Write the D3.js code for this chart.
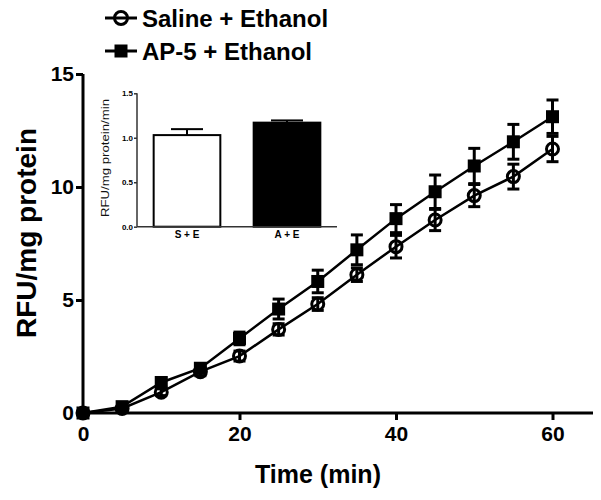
<!DOCTYPE html>
<html><head><meta charset="utf-8">
<script src="https://cdn.jsdelivr.net/npm/d3@7"></script>
<style>body{margin:0;background:#fff}svg{display:block}text{font-family:"Liberation Sans",Arial,sans-serif;font-weight:bold;fill:#000}</style>
</head><body><svg id="c" width="601" height="500"></svg>
<script>
const times = [0,5,10,15,20,25,30,35,40,45,50,55,60];
const salineMean = [0,0.2,0.92,1.83,2.52,3.7,4.82,6.12,7.36,8.54,9.62,10.46,11.68];
const salineErr  = [0,0.1,0.15,0.18,0.22,0.25,0.28,0.3,0.5,0.47,0.49,0.55,0.56];
const ap5Mean = [0,0.28,1.35,1.98,3.3,4.6,5.82,7.22,8.6,9.79,10.93,12.0,13.11];
const ap5Err  = [0,0.1,0.2,0.2,0.28,0.44,0.5,0.66,0.62,0.74,0.78,0.77,0.74];
const seriesNames = ["Saline + Ethanol","AP-5 + Ethanol"];
const xTicks = [0,20,40,60];
const yTicks = [0,5,10,15];
const insetCats = ["S + E","A + E"];
const insetMean = [1.03,1.17];
const insetErr = [0.067,0.025];
const insetTicks = [0,0.5,1.0,1.5];

const svg = d3.select("#c");
const x = d3.scaleLinear().domain([0,60]).range([83,552.5]);
const y = d3.scaleLinear().domain([0,15]).range([413,74]);

// axes
const xAxis = svg.append("g").attr("transform","translate(0,413)")
  .call(d3.axisBottom(x).tickValues(xTicks).tickSize(7).tickPadding(6).tickFormat(d3.format("d")));
xAxis.select(".domain").attr("d","M83,0H593");
const yAxis = svg.append("g").attr("transform","translate(83,0)")
  .call(d3.axisLeft(y).tickValues(yTicks).tickSize(7).tickPadding(2).tickFormat(d3.format("d")));
yAxis.select(".domain").attr("d","M0,74V413");
[xAxis,yAxis].forEach(a=>{
  a.selectAll(".domain").attr("stroke","#000").attr("stroke-width",3);
  a.selectAll(".tick line").attr("stroke","#000").attr("stroke-width",3);
  a.selectAll(".tick text").style("font-size","21px").style("font-family","'Liberation Sans',Arial,sans-serif").style("font-weight","bold");
});

svg.append("text").attr("x",318).attr("y",483).attr("text-anchor","middle").style("font-size","25px").text("Time (min)");
svg.append("text").attr("transform","translate(36,233) rotate(-90)").attr("text-anchor","middle").style("font-size","28px").text("RFU/mg protein");

const line = d3.line().x((d,i)=>x(times[i])).y(d=>y(d));
const capW = 6;
function errBars(mean, err){
  const g = svg.append("g").attr("stroke","#000").attr("stroke-width",3);
  times.forEach((t,i)=>{
    if(err[i] <= 0) return;
    const y1 = y(mean[i]-err[i]), y2 = y(mean[i]+err[i]);
    g.append("line").attr("x1",x(t)).attr("x2",x(t)).attr("y1",y1).attr("y2",y2);
    g.append("line").attr("x1",x(t)-capW).attr("x2",x(t)+capW).attr("y1",y1).attr("y2",y1);
    g.append("line").attr("x1",x(t)-capW).attr("x2",x(t)+capW).attr("y1",y2).attr("y2",y2);
  });
}
errBars(ap5Mean, ap5Err);
errBars(salineMean, salineErr);
svg.append("path").datum(ap5Mean).attr("d",line).attr("fill","none").attr("stroke","#000").attr("stroke-width",2.5);
svg.append("path").datum(salineMean).attr("d",line).attr("fill","none").attr("stroke","#000").attr("stroke-width",2.5);
svg.append("g").selectAll("rect").data(ap5Mean).join("rect")
  .attr("x",(d,i)=>x(times[i])-6.5).attr("y",d=>y(d)-6.5).attr("width",13).attr("height",13).attr("fill","#000");
svg.append("g").selectAll("circle").data(salineMean).join("circle")
  .attr("cx",(d,i)=>x(times[i])).attr("cy",d=>y(d)).attr("r",6).attr("fill","none").attr("stroke","#000").attr("stroke-width",3);

// legend
const leg = svg.append("g");
seriesNames.forEach((n,i)=>{
  const cy = 18 + i*33;
  leg.append("line").attr("x1",105).attr("x2",137).attr("y1",cy).attr("y2",cy).attr("stroke","#000").attr("stroke-width",3);
  if(i===0) leg.append("circle").attr("cx",121).attr("cy",cy).attr("r",6.5).attr("fill","none").attr("stroke","#000").attr("stroke-width",3);
  else leg.append("rect").attr("x",114.5).attr("y",cy-6.5).attr("width",13).attr("height",13).attr("fill","#000");
  leg.append("text").attr("x",142).attr("y",cy+8.5).style("font-size","24px").text(n);
});

// inset
const ix = d3.scaleBand().domain(insetCats).range([137,337]).paddingInner(1/3).paddingOuter(1/6);
const iy = d3.scaleLinear().domain([0,1.5]).range([226.7,93.3]);
const ig = svg.append("g");
ig.selectAll("line.err").data(insetCats).join("g").each(function(c,i){
  const g = d3.select(this);
  const cx = ix(c)+ix.bandwidth()/2;
  g.append("line").attr("x1",cx).attr("x2",cx).attr("y1",iy(insetMean[i])).attr("y2",iy(insetMean[i]+insetErr[i])).attr("stroke","#000").attr("stroke-width",2);
  g.append("line").attr("x1",cx-16).attr("x2",cx+16).attr("y1",iy(insetMean[i]+insetErr[i])).attr("y2",iy(insetMean[i]+insetErr[i])).attr("stroke","#000").attr("stroke-width",2);
});
ig.selectAll("rect").data(insetCats).join("rect")
  .attr("x",c=>ix(c)).attr("width",ix.bandwidth())
  .attr("y",(c,i)=>iy(insetMean[i])).attr("height",(c,i)=>iy(0)-iy(insetMean[i]))
  .attr("fill",(c,i)=>i===0?"#fff":"#000").attr("stroke","#000").attr("stroke-width",2);
const iyAxis = svg.append("g").attr("transform","translate(137,0)")
  .call(d3.axisLeft(iy).tickValues(insetTicks).tickSize(3).tickPadding(1).tickFormat(d3.format(".1f")));
iyAxis.select(".domain").attr("d","M0,93.3V226.7");
const ixAxis = svg.append("g").attr("transform","translate(0,226.7)")
  .call(d3.axisBottom(ix).tickSize(0).tickPadding(4));
ixAxis.select(".domain").attr("d","M137,0H337");
[iyAxis,ixAxis].forEach(a=>{
  a.selectAll(".domain").attr("stroke","#333").attr("stroke-width",1.5);
  a.selectAll(".tick line").attr("stroke","#333").attr("stroke-width",1.5);
  a.selectAll(".tick text").style("font-size","8px").style("font-family","'Liberation Sans',Arial,sans-serif").style("font-weight","bold").attr("fill","#111");
});
ixAxis.selectAll(".tick text").style("font-size","10px");
svg.append("text").attr("transform","translate(109,158) rotate(-90)").attr("text-anchor","middle")
  .attr("textLength",118).attr("lengthAdjust","spacingAndGlyphs").style("font-size","10px").style("font-weight","normal").style("fill","#111").text("RFU/mg protein/min");
</script></body></html>
